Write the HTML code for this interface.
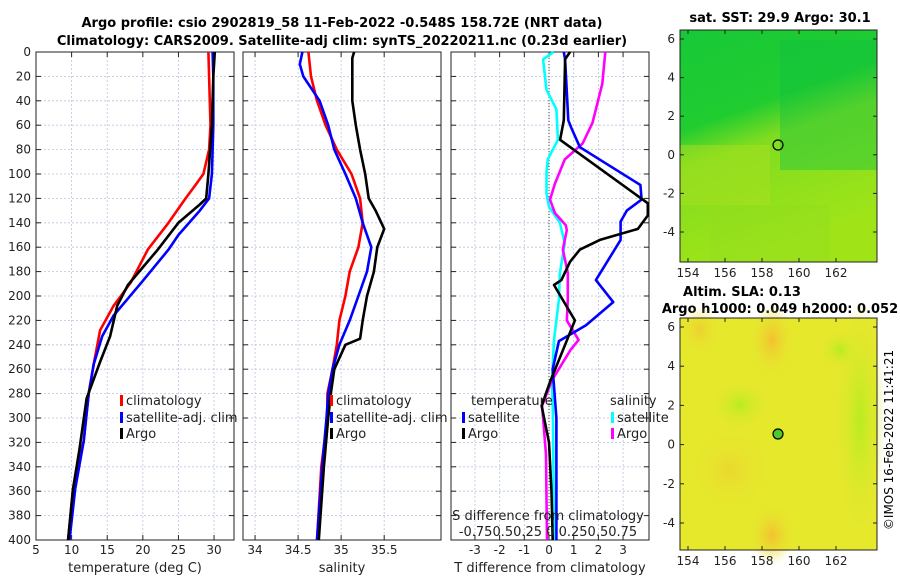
<!DOCTYPE html>
<html><head><meta charset="utf-8"><style>
body{margin:0;background:#fff}
svg{display:block;font-family:"DejaVu Sans","Liberation Sans",sans-serif}
</style></head><body>
<svg id="fig" width="900" height="580" viewBox="0 0 900 580">
<defs>
<linearGradient id="sstg" x1="0" y1="0" x2="0.3" y2="1">
<stop offset="0" stop-color="#18c838"/><stop offset="0.4" stop-color="#20cc30"/><stop offset="0.55" stop-color="#80dc20"/><stop offset="1" stop-color="#a0e418"/></linearGradient>
<radialGradient id="or1" cx="0.5" cy="0.5" r="0.5"><stop offset="0" stop-color="#f4c030"/><stop offset="1" stop-color="#e8e030" stop-opacity="0"/></radialGradient>
<radialGradient id="gr1" cx="0.5" cy="0.5" r="0.5"><stop offset="0" stop-color="#b8ec20"/><stop offset="1" stop-color="#e0e830" stop-opacity="0"/></radialGradient>
</defs>
<g font-size="13" font-weight="bold" text-anchor="middle">
<text x="342" y="27">Argo profile: csio 2902819_58 11-Feb-2022 -0.548S 158.72E (NRT data)</text>
<text x="342" y="45">Climatology: CARS2009. Satellite-adj clim: synTS_20220211.nc (0.23d earlier)</text>
</g>
<g id="panels"></g>
<g>
<text x="780" y="22" font-size="13" font-weight="bold" text-anchor="middle">sat. SST: 29.9 Argo: 30.1</text>
<rect x="680" y="30" width="197" height="232" fill="url(#sstg)"/>
<rect x="680" y="145" width="90" height="60" fill="#a8e020" opacity="0.5"/>
<rect x="780" y="40" width="97" height="130" fill="#10c040" opacity="0.4"/>
<rect x="710" y="205" width="120" height="57" fill="#90dc20" opacity="0.4"/>
<circle cx="778" cy="145" r="5" fill="none" stroke="#000" stroke-width="1.2"/>
<rect x="680" y="30" width="197" height="232" fill="none" stroke="#222"/>
</g>
<g>
<text x="742" y="296" font-size="13" font-weight="bold" text-anchor="middle">Altim. SLA: 0.13</text>
<text x="780" y="313" font-size="13" font-weight="bold" text-anchor="middle">Argo h1000: 0.049 h2000: 0.052</text>
<rect x="680" y="318" width="197" height="232" fill="#e6e82c"/>
<ellipse cx="772" cy="340" rx="22" ry="35" fill="url(#or1)"/>
<ellipse cx="772" cy="535" rx="22" ry="30" fill="url(#or1)"/>
<ellipse cx="700" cy="330" rx="20" ry="25" fill="url(#or1)" opacity="0.6"/>
<ellipse cx="730" cy="470" rx="40" ry="40" fill="url(#or1)" opacity="0.4"/>
<ellipse cx="860" cy="420" rx="25" ry="120" fill="url(#gr1)"/>
<ellipse cx="740" cy="405" rx="30" ry="25" fill="url(#gr1)"/>
<ellipse cx="840" cy="350" rx="20" ry="20" fill="url(#gr1)"/>
<circle cx="778" cy="434" r="5" fill="#4cc830" stroke="#000" stroke-width="1.2"/>
<rect x="680" y="318" width="197" height="232" fill="none" stroke="#222"/>
</g>
<g id="mapaxes" font-size="12" fill="#222"></g>
<text transform="translate(893,440) rotate(-90)" font-size="12" text-anchor="middle">©IMOS 16-Feb-2022 11:41:21</text>
</svg>
<script>
// ---- data ----
const depthTicks=[0,20,40,60,80,100,120,140,160,180,200,220,240,260,280,300,320,340,360,380,400];
const tempTicks=[5,10,15,20,25,30];
const salTicks=[34,34.5,35,35.5];
const tdiffTicks=[-3,-2,-1,0,1,2,3];
const sdiffTicks=[-0.75,-0.5,-0.25,0,0.25,0.5,0.75];
const tDepth=[0,20,40,60,80,100,109,120,140,162,189,208,228,256,280,319,358,400];
const tClim=[29.2,29.3,29.4,29.5,29.3,28.5,27.4,26,23.6,20.7,18.3,15.9,14,13.1,12.4,11.7,10.2,9.5];
const tSatDepth=[0,20,60,100,120,130,150,162,189,216,233,256,280,319,358,400];
const tSat=[29.8,29.9,29.9,29.7,29.3,28,25,23.6,19.8,15.9,14.3,13.1,12.4,11.7,10.5,9.7];
const tArgoDepth=[0,20,60,100,120,125,140,162,191,208,233,254,284,326,358,400];
const tArgo=[30.1,29.9,29.7,29.2,28.9,28,25,22.1,17.9,16.4,15.4,14,12.1,11.1,10.2,9.5];
const sDepth=[0,20,40,60,80,100,120,140,160,180,200,220,240,260,280,300,340,400];
const sClim=[34.62,34.65,34.72,34.82,34.95,35.12,35.22,35.25,35.2,35.1,35.05,34.98,34.95,34.9,34.84,34.84,34.77,34.72];
const sSatDepth=[0,10,20,40,60,80,100,120,140,160,180,200,220,240,260,280,300,340,400];
const sSat=[34.55,34.52,34.56,34.75,34.85,34.92,35.05,35.17,35.25,35.35,35.3,35.2,35.1,34.98,34.9,34.85,34.83,34.78,34.72];
const sArgoDepth=[0,5,40,60,80,100,120,130,145,160,180,200,220,235,240,260,280,300,340,400];
const sArgo=[35.15,35.13,35.13,35.17,35.22,35.28,35.32,35.4,35.5,35.42,35.38,35.3,35.25,35.22,35.05,34.92,34.88,34.85,34.8,34.74];
const dtSatDepth=[0,6,56,62,78,109,121,130,139,154,187,205,224,237,260,300,400];
const dtSat=[0.6,0.65,0.78,0.9,1.25,3.7,3.75,3.15,2.9,2.9,1.9,2.6,1.5,0.4,0.15,0.3,0.3];
const dtArgoDepth=[0,6,56,72,121,124,134,145,154,162,172,187,191,220,240,270,290,320,360,400];
const dtArgo=[0.85,0.65,0.6,0.45,3.8,4.0,4.0,3.6,2.06,1.25,0.85,0.5,0.2,1.05,0.65,0.05,-0.3,0,0.1,0.15];
const dsSatDepth=[0,6,31,47,72,88,99,116,127,140,157,181,203,236,269,300,400];
const dsSat=[0.045,-0.06,-0.025,0.075,0.09,-0.012,-0.025,-0.025,0,0.11,0.16,0.11,0.1,0.05,0.03,0.04,0.05];
const dsArgoDepth=[0,26,58,75,88,108,121,132,142,146,162,181,203,220,236,244,269,290,330,400];
const dsArgo=[0.57,0.54,0.44,0.34,0.16,0.06,0.01,0.06,0.17,0.18,0.14,0.19,0.19,0.18,0.3,0.22,0.03,-0.07,-0.03,-0.02];
const lonTicks=[154,156,158,160,162];
const latTicks=[-4,-2,0,2,4,6];

const NS='http://www.w3.org/2000/svg';
const root=document.getElementById('panels');
function mk(tag,attrs,parent){const e=document.createElementNS(NS,tag);for(const k in attrs)e.setAttribute(k,attrs[k]);(parent||root).appendChild(e);return e;}
const Y0=52,Y1=540;
const yS=d=>Y0+(Y1-Y0)*d/400;

function panel(name,x0,x1,xmin,xmax,ticks,fmt,xlabel,showY){
  const g=mk('g',{});
  
  
  const xS=v=>x0+(x1-x0)*(v-xmin)/(xmax-xmin);
  depthTicks.forEach(d=>{
    const l=mk('line',{x1:x0,x2:x1,y1:yS(d),y2:yS(d),stroke:'#b8c4e0','stroke-width':0.8,'stroke-dasharray':'2,2'},g);
    
    
    mk('line',{x1:x0,x2:x0+5,y1:yS(d),y2:yS(d),stroke:'#222'},g);
    mk('line',{x1:x1-5,x2:x1,y1:yS(d),y2:yS(d),stroke:'#222'},g);
    if(showY){const t=mk('text',{x:x0-5,y:yS(d)+4,'font-size':12,'text-anchor':'end',fill:'#222'},g);t.textContent=d;
      
      }
  });
  ticks.forEach(v=>{const X=xS(v);
    mk('line',{x1:X,x2:X,y1:Y0,y2:Y1,stroke:'#b8c4e0','stroke-width':0.8,'stroke-dasharray':'2,2'},g);
    mk('line',{x1:X,x2:X,y1:Y1,y2:Y1-5,stroke:'#222'},g);
    mk('line',{x1:X,x2:X,y1:Y0,y2:Y0+5,stroke:'#222'},g);
    const t=mk('text',{x:X,y:Y1+14,'font-size':12,'text-anchor':'middle',fill:'#222'},g);t.textContent=fmt(v);
    
    
  });
  const r=mk('rect',{x:x0,y:Y0,width:x1-x0,height:Y1-Y0,fill:'none',stroke:'#222'},g);
  
  
  const xl=mk('text',{x:(x0+x1)/2,y:572,'font-size':13,'text-anchor':'middle',fill:'#222'},g);xl.textContent=xlabel;
  
  
  return {g,xS};
}
function line(p,depths,vals,color,name,scale){
  const s=scale||1;
  const pts=depths.map((d,i)=>p.xS(vals[i]*s).toFixed(1)+','+yS(d).toFixed(1)).join(' ');
  const l=mk('polyline',{points:pts,fill:'none',stroke:color,'stroke-width':2.6,'stroke-linejoin':'round'},p.g);
  
  
}
function legItem(g,x,y,color,label,name){
  if(color){mk('rect',{x:x,y:y-10,width:3,height:11,fill:color},g);}
  const t=mk('text',{x:x+6,y:y,'font-size':13,fill:'#222'},g);t.textContent=label;
  
  
}
const p1=panel('temperature-panel',36,234,5,32.8,tempTicks,v=>v,'temperature (deg C)',true);
line(p1,tDepth,tClim,'#ff0000','climatology-temp-line');
line(p1,tSatDepth,tSat,'#0000ff','satellite-temp-line');
line(p1,tArgoDepth,tArgo,'#000','argo-temp-line');
legItem(p1.g,120,405,'#ff0000','climatology','legend-climatology');
legItem(p1.g,120,422,'#0000ff','satellite-adj. clim','legend-satellite');
legItem(p1.g,120,438,'#000','Argo','legend-argo');

const p2=panel('salinity-panel',243,441,33.86,36.16,salTicks,v=>v,'salinity',false);
line(p2,sDepth,sClim,'#ff0000','climatology-sal-line');
line(p2,sSatDepth,sSat,'#0000ff','satellite-sal-line');
line(p2,sArgoDepth,sArgo,'#000','argo-sal-line');
legItem(p2.g,330,405,'#ff0000','climatology','legend-climatology-sal');
legItem(p2.g,330,422,'#0000ff','satellite-adj. clim','legend-satellite-sal');
legItem(p2.g,330,438,'#000','Argo','legend-argo-sal');

const p3=panel('difference-panel',451,649,-3.97,4.05,tdiffTicks,v=>v,'T difference from climatology',false);
mk('line',{x1:p3.xS(0),x2:p3.xS(0),y1:Y0,y2:Y1,stroke:'#444','stroke-dasharray':'1,2'},p3.g);
line(p3,dsSatDepth,dsSat,'#00ffff','sal-diff-satellite-line',4);
line(p3,dsArgoDepth,dsArgo,'#ff00ff','sal-diff-argo-line',4);
line(p3,dtSatDepth,dtSat,'#0000ff','temp-diff-satellite-line');
line(p3,dtArgoDepth,dtArgo,'#000','temp-diff-argo-line');
legItem(p3.g,465,405,null,'temperature','legend-temperature-header');
legItem(p3.g,462,422,'#0000ff','satellite','legend-temp-satellite');
legItem(p3.g,462,438,'#000','Argo','legend-temp-argo');
legItem(p3.g,604,405,null,'salinity','legend-salinity-header');
legItem(p3.g,611,422,'#00ffff','satellite','legend-sal-satellite');
legItem(p3.g,611,438,'#ff00ff','Argo','legend-sal-argo');
const st=mk('text',{x:548,y:520,'font-size':13,'text-anchor':'middle',fill:'#222'},p3.g);st.textContent='S difference from climatology';


const sl=mk('text',{x:548,y:536,'font-size':13,'text-anchor':'middle',fill:'#222'},p3.g);
sl.textContent='-0.750.50.25 0 0.250.50.75';



const mg=document.getElementById('mapaxes');
function mapAxes(y0,y1,lat6,latm4,name){
  const lonS=v=>688+(v-154)*18.5;
  const latS=v=>lat6+(v-6)*(latm4-lat6)/(-10);
  lonTicks.forEach(v=>{const X=lonS(v);
    mk('line',{x1:X,x2:X,y1:y1,y2:y1-4,stroke:'#222'},mg);
    mk('line',{x1:X,x2:X,y1:y0,y2:y0+4,stroke:'#222'},mg);
    const t=mk('text',{x:X,y:y1+15,'text-anchor':'middle'},mg);t.textContent=v;
    
    });
  latTicks.forEach(v=>{const Y=latS(v);
    mk('line',{x1:680,x2:684,y1:Y,y2:Y,stroke:'#222'},mg);
    mk('line',{x1:873,x2:877,y1:Y,y2:Y,stroke:'#222'},mg);
    const t=mk('text',{x:675,y:Y+4,'text-anchor':'end'},mg);t.textContent=v;
    
    });
}
mapAxes(30,262,39,232,'sst-map');
mapAxes(318,550,327,523,'sla-map');
</script>
</body></html>
